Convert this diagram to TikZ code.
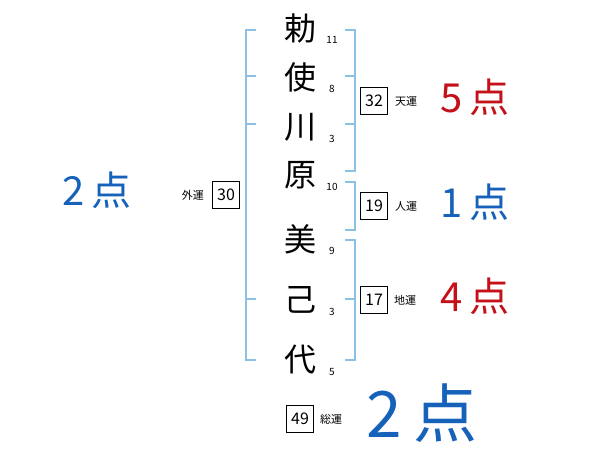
\documentclass[tikz,border=0pt]{standalone}
\usepackage{fontspec}
\setmainfont{Noto Sans CJK JP}
\usepackage{xcolor}
\usepackage{tikz}
\usetikzlibrary{positioning}
\definecolor{kakublue}{RGB}{140,192,228}
\definecolor{tenblue}{RGB}{22,98,186}
\definecolor{tenred}{RGB}{196,16,24}

\begin{document}
\begin{tikzpicture}[x=1pt,y=-1pt]
  \useasboundingbox (0,0) rectangle (600,470);
  \tikzset{moji/.style={font=\fontsize{32}{32}\selectfont,inner sep=0pt},
    kaku/.style={font=\fontsize{10}{10}\selectfont,inner sep=0pt},
    unbox/.style={draw,line width=0.8pt,minimum width=27pt,minimum height=27pt,
      inner sep=0pt,font=\fontsize{16}{16}\selectfont},
    unlab/.style={font=\fontsize{11}{11}\selectfont,inner sep=0pt},
    tensu/.style={font=\fontsize{40}{40}\selectfont,inner sep=0pt},
    brk/.style={kakublue,line width=1.5pt}}
  % name and stroke counts
  \foreach \c/\k/\y [count=\i] in {勅/11/28,使/8/77,川/3/127,原/10/175,美/9/239,己/3/300,代/5/360}{
    \node[moji](c\i)at(300,\y){\c};
    \node[kaku](k\i)at(332,\y+12){\k};
  }
  % brackets
  \draw[brk](256,30)--(246,30)--(246,360)--(256,360);
  \foreach \y in {76,124,299}
    \draw[brk](246,\y)--(256,\y);
  \draw[brk](345,30)--(355,30)--(355,171)--(345,171);
  \foreach \y in {76,124}
    \draw[brk](345,\y)--(355,\y);
  \draw[brk](345,182)--(355,182)--(355,230)--(345,230);
  \draw[brk](345,240)--(355,240)--(355,360)--(345,360);
  \draw[brk](345,299)--(355,299);
  % fortunes
  \node[unbox](ten)at(374,101){32};
  \node[unlab,right=7pt of ten](tenl){天運};
  \node[unbox](jin)at(374,206){19};
  \node[unlab,right=7pt of jin](jinl){人運};
  \node[unbox](chi)at(374,300){17};
  \node[unlab,right=6pt of chi](chil){地運};
  \node[unbox](gai)at(226,195){30};
  \node[unlab,left=8pt of gai](gail){外運};
  \node[unbox](sou)at(300,419){49};
  \node[unlab,right=6pt of sou](soul){総運};
  % points
  \node[tensu,tenblue](pgai)at(97,190){2\,点};
  \node[tensu,tenred](pten)at(475,97){5\,点};
  \node[tensu,tenblue](pjin)at(475,202){1\,点};
  \node[tensu,tenred](pchi)at(475,296){4\,点};
  \node[tensu,tenblue,font=\fontsize{64}{64}\selectfont](psou)at(422,413){2\,点};
\end{tikzpicture}
\end{document}
